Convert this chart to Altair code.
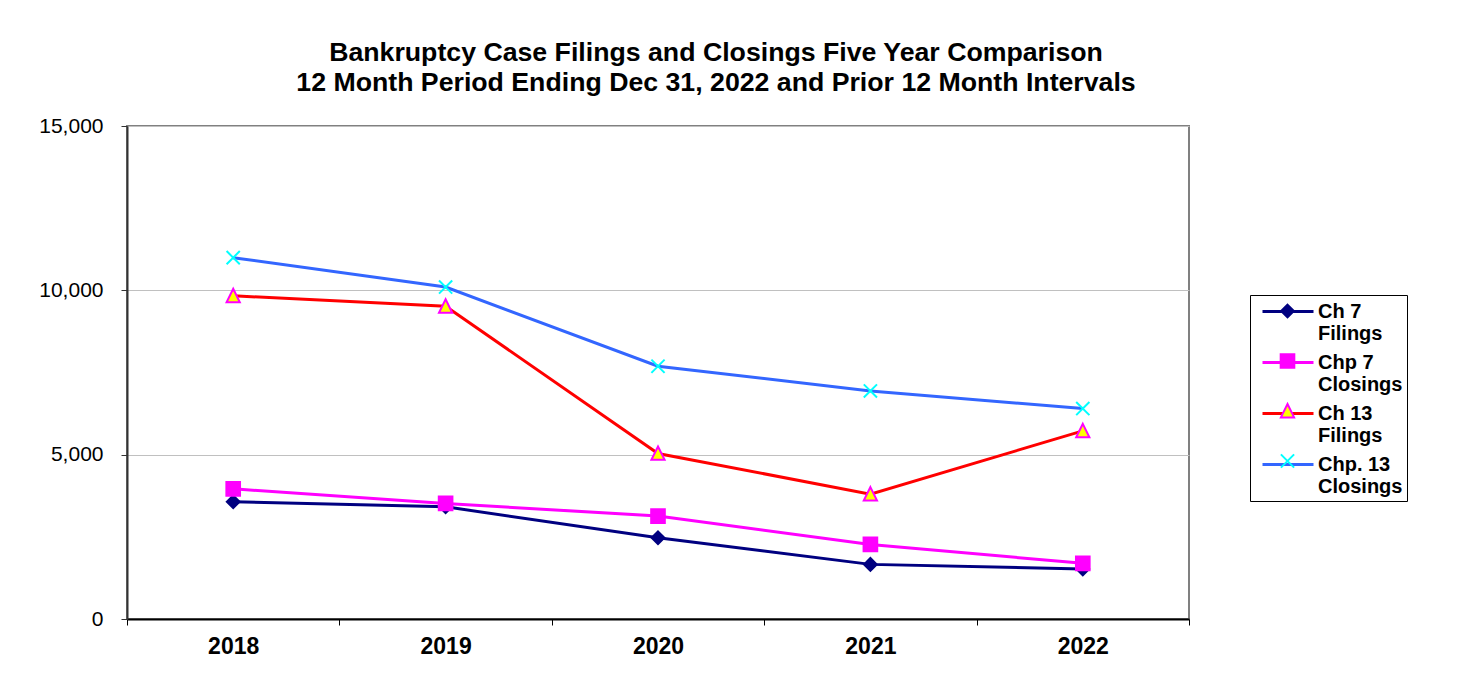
import altair as alt
import pandas as pd

years = ["2018", "2019", "2020", "2021", "2022"]
series_names = ["Ch 7|Filings", "Chp 7|Closings", "Ch 13|Filings", "Chp. 13|Closings"]
ch7_filings = [3565, 3413, 2471, 1662, 1520]
chp7_closings = [3960, 3517, 3131, 2270, 1693]
ch13_filings = [9833, 9514, 5036, 3799, 5723]
chp13_closings = [10994, 10100, 7690, 6939, 6404]

line_colors = ["#000080", "#FF00FF", "#FF0000", "#3366FF"]
# marker outlines in unit coordinates (scaled by sqrt(size)/2 = 11 px)
marker_shapes = [
    "M0,-0.58L0.58,0L0,0.58L-0.58,0Z",
    "M-0.62,-0.62L0.62,-0.62L0.62,0.62L-0.62,0.62Z",
    "M0,-0.64L0.6,0.58L-0.6,0.58Z",
    "M-0.6,-0.6L0.6,0.6M-0.6,0.6L0.6,-0.6",
]
marker_fills = ["#000080", "#FF00FF", "#FFFF00", "transparent"]
marker_strokes = ["#000080", "#FF00FF", "#FF00FF", "#00FFFF"]

rows = []
for name, vals in zip(series_names, [ch7_filings, chp7_closings, ch13_filings, chp13_closings]):
    for yr, v in zip(years, vals):
        rows.append({"year": yr, "value": v, "series": name, "series_pt": name})
df = pd.DataFrame(rows)

FONT = "Liberation Sans"
LX, LY = 1123, 169
SYM = 484  # symbol size -> 22 px box

x_enc = alt.X(
    "year:O",
    scale=alt.Scale(type="band", paddingInner=0, paddingOuter=0),
    axis=alt.Axis(title=None, labelAngle=0, tickBand="extent", labelFont=FONT,
                  labelFontSize=23, labelFontWeight="bold", labelColor="black",
                  labelPadding=10, tickSize=6, tickColor="black", domainColor="black",
                  domainWidth=2, grid=False),
)
y_enc = alt.Y(
    "value:Q",
    scale=alt.Scale(domain=[0, 15000], nice=False),
    axis=alt.Axis(title=None, values=[0, 5000, 10000, 15000], format=",d",
                  labelFont=FONT, labelFontSize=21, labelColor="black",
                  labelPadding=18, tickSize=6, tickColor="#333333",
                  domainColor="#333333", domainWidth=2, gridColor="#C0C0C0",
                  gridWidth=1),
)

legend_common = dict(
    title=None, orient="none", legendY=LY,
    labelExpr="split(datum.label, '|')", labelFont=FONT, labelFontSize=20,
    labelFontWeight="bold", labelColor="black", labelLimit=300,
    padding=4, rowPadding=6, labelOffset=39, symbolSize=SYM,
)

line_legend = alt.Legend(legendX=LX, symbolType="M-0.3636,0L4.2727,0",
                         symbolStrokeWidth=3, strokeColor="black",
                         **legend_common)
pt_legend = alt.Legend(legendX=LX + 21.5, labelOpacity=0, symbolStrokeWidth=2,
                       **legend_common)

lines = alt.Chart(df).mark_line(strokeWidth=3).encode(
    x=x_enc, y=y_enc,
    color=alt.Color("series:N", sort=series_names,
                    scale=alt.Scale(range=line_colors), legend=line_legend),
)

points = alt.Chart(df).mark_point(size=SYM, opacity=1, strokeWidth=2).encode(
    x=x_enc, y=y_enc,
    fill=alt.Fill("series_pt:N",
                  scale=alt.Scale(domain=series_names, range=marker_fills), legend=pt_legend),
    stroke=alt.Stroke("series_pt:N",
                      scale=alt.Scale(domain=series_names, range=marker_strokes), legend=pt_legend),
    shape=alt.Shape("series_pt:N",
                    scale=alt.Scale(domain=series_names, range=marker_shapes), legend=pt_legend),
)

chart = alt.layer(lines, points).properties(
    width=1062, height=493,
    title=alt.Title(
        ["Bankruptcy Case Filings and Closings Five Year Comparison",
         "12 Month Period Ending Dec 31, 2022 and Prior 12 Month Intervals"],
        font=FONT, fontSize=26.7, fontWeight="bold", lineHeight=30, color="black",
        anchor="middle", frame="group", dx=58, offset=18,
    ),
    autosize=alt.AutoSizeParams(type="none"),
    padding={"left": 119, "top": 118, "right": 260, "bottom": 60},
    background="white",
).configure_view(stroke="#808080", strokeWidth=2)

chart.save("out.html", embed_options={"renderer": "svg", "actions": False})
